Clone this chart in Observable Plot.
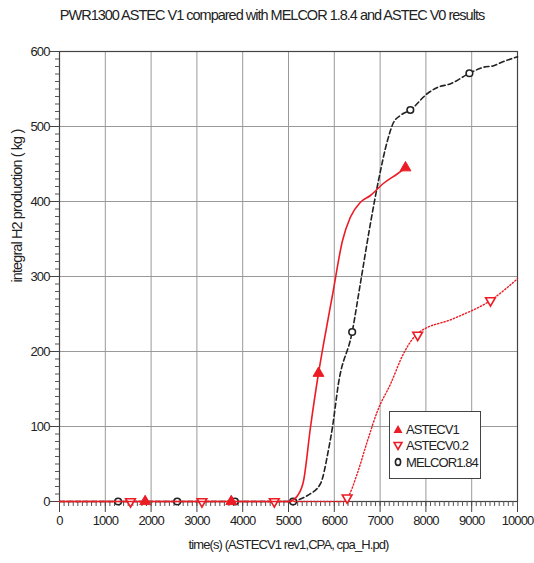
<!DOCTYPE html>
<html>
<head>
<meta charset="utf-8">
<script src="https://cdn.jsdelivr.net/npm/d3@7"></script>
<script src="https://cdn.jsdelivr.net/npm/@observablehq/plot@0.6"></script>
<style>
  html, body { margin: 0; padding: 0; background: #fff; }
  #wrap { position: relative; width: 534px; height: 563px; overflow: hidden;
          font-family: "Liberation Sans Narrow", "Arial Narrow", "Liberation Sans", sans-serif; }
  #title { height: 40px; width: 534px; box-sizing: border-box; padding-left: 10px; padding-top: 7px;
           text-align: center; font-size: 14.5px; letter-spacing: -1px; color: #222; }
  #legend { position: absolute; left: 389px; top: 411px; width: 90px; height: 66px;
            border: 1.5px solid #444; background: #fff; font-size: 13px; letter-spacing: -0.9px; color: #222; }
  #legend .row { display: flex; align-items: center; height: 16.5px; }
  #legend .row:first-child { margin-top: 9px; }
  #legend svg { margin-left: 3px; margin-right: 3px; }
  svg text { letter-spacing: -0.9px; }
</style>
</head>
<body>
<div id="wrap">
  <div id="title"></div>
  <div id="chart"></div>
  <div id="legend"></div>
</div>
<script>
const titleText = "PWR1300 ASTEC V1 compared with MELCOR 1.8.4 and ASTEC V0 results";
const xLabel = "time(s) (ASTECV1 rev1,CPA, cpa_H.pd)";
const yLabel = "integral H2 production ( kg )";

const xTicks = [0, 1000, 2000, 3000, 4000, 5000, 6000, 7000, 8000, 9000, 10000];
const yTicks = [0, 100, 200, 300, 400, 500, 600];

// ASTEC V1 (red, solid)
const v1Time = [0, 5000, 5100, 5200, 5330, 5480, 5655, 5765, 5960, 6180, 6350, 6570, 6790, 7070, 7380, 7555];
const v1H2   = [0, 0, 2, 8, 28, 99, 171, 210, 275, 348, 379, 399, 408, 424, 437, 445];
const v1MarkTime = [1870, 3750, 5655, 7555];
const v1MarkH2   = [0, 0, 171, 445];

// ASTEC V0.2 (red, dotted)
const v0Time = [0, 6200, 6290, 6500, 6725, 6945, 7230, 7510, 7820, 8610, 9410, 10000];
const v0H2   = [0, 0, 5, 37, 81, 121, 157, 197, 224, 244, 268, 297];
const v0MarkTime = [1550, 3110, 4690, 6280, 7820, 9410];
const v0MarkH2   = [0, 0, 0, 5, 222, 268];

// MELCOR 1.8.4 (black, dashed)
const melTime = [0, 5050, 5200, 5415, 5700, 5870, 5960, 6090, 6390, 6570, 6790, 6965, 7160, 7290, 7450, 7660, 8035, 8250, 8540, 8950, 9260, 9480, 9630, 10000];
const melH2   = [0, 0, 2, 8, 24, 68, 99, 157, 226, 291, 371, 428, 481, 505, 515, 522, 544, 552, 557, 571, 579, 581, 585, 593];
const melMarkTime = [1280, 2570, 3830, 5100, 6390, 7660, 8950];
const melMarkH2   = [0, 0, 0, 0, 226, 522, 571];

const seriesNames = ["ASTECV1", "ASTECV0.2", "MELCOR1.84"];

const RED = "#ec1c24";
const BLACK = "#222";

const toRows = (t, h) => t.map((d, i) => ({t: d, h: h[i]}));
const v1 = toRows(v1Time, v1H2), v1m = toRows(v1MarkTime, v1MarkH2);
const v0 = toRows(v0Time, v0H2), v0m = toRows(v0MarkTime, v0MarkH2);
const mel = toRows(melTime, melH2), melm = toRows(melMarkTime, melMarkH2);

const xMinor = d3.range(0, 10001, 100);
const yMinor = d3.range(0, 601, 10);

document.getElementById("title").textContent = titleText;

const chart = Plot.plot({
  width: 534,
  height: 523,
  marginLeft: 59,
  marginRight: 17,
  marginTop: 11,
  marginBottom: 62,
  style: {fontFamily: "'Liberation Sans Narrow', 'Arial Narrow', 'Liberation Sans', sans-serif", fontSize: "13px", color: "#222", background: "#fff"},
  x: {domain: [0, 10000]},
  y: {domain: [0, 600]},
  marks: [
    Plot.gridX(xTicks, {stroke: "#999", strokeOpacity: 1, strokeWidth: 1}),
    Plot.gridY(yTicks, {stroke: "#999", strokeOpacity: 1, strokeWidth: 1}),
    Plot.frame({stroke: "#444", strokeWidth: 1.2}),
    Plot.axisX(xMinor, {tickSize: 5, text: null, label: null, stroke: "#555"}),
    Plot.axisX(xTicks, {tickSize: 11, tickPadding: 3, label: null, tickFormat: d => String(d), stroke: "#444", fontSize: 13}),
    Plot.axisY(yMinor, {tickSize: 4, text: null, label: null, stroke: "#555"}),
    Plot.axisY(yTicks, {tickSize: 9, tickPadding: 1, label: null, tickFormat: d => String(d), stroke: "#444", fontSize: 13}),
    Plot.text([xLabel], {frameAnchor: "bottom", dy: 47, fontSize: 13, fill: "#222"}),
    Plot.text([yLabel], {frameAnchor: "left", rotate: -90, dx: -42, dy: 6, fontSize: 14.5, fill: "#222"}),
    // MELCOR
    Plot.line(mel, {x: "t", y: "h", stroke: BLACK, strokeWidth: 1.6, strokeDasharray: "5,3", curve: "monotone-x"}),
    Plot.dot(melm, {x: "t", y: "h", symbol: "circle", r: 3.3, stroke: BLACK, strokeWidth: 1.6, fill: "#fff"}),
    // ASTEC V0.2
    Plot.line(v0, {x: "t", y: "h", stroke: RED, strokeWidth: 1.4, strokeDasharray: "1.3,2", curve: "monotone-x"}),
    Plot.dot(v0m, {x: "t", y: "h", symbol: "triangle", rotate: 180, r: 3.6, stroke: RED, strokeWidth: 1.6, fill: "#fff"}),
    // ASTEC V1
    Plot.line(v1, {x: "t", y: "h", stroke: RED, strokeWidth: 1.6, curve: "monotone-x"}),
    Plot.dot(v1m, {x: "t", y: "h", symbol: "triangle", r: 4, fill: RED, stroke: RED, strokeWidth: 1})
  ]
});
document.getElementById("chart").appendChild(chart);

// Legend
const legend = document.getElementById("legend");
const legendSymbols = [
  `<svg width="10" height="10"><path d="M5,1L9.5,9L0.5,9Z" fill="${RED}"/></svg>`,
  `<svg width="10" height="10"><path d="M1,1.5L9,1.5L5,8.5Z" fill="#fff" stroke="${RED}" stroke-width="1.6"/></svg>`,
  `<svg width="10" height="10"><ellipse cx="5" cy="5" rx="2.6" ry="3.4" fill="#fff" stroke="${BLACK}" stroke-width="1.6"/></svg>`
];
seriesNames.forEach((name, i) => {
  const row = document.createElement("div");
  row.className = "row";
  row.innerHTML = legendSymbols[i] + `<span>${name}</span>`;
  legend.appendChild(row);
});
</script>
</body>
</html>
